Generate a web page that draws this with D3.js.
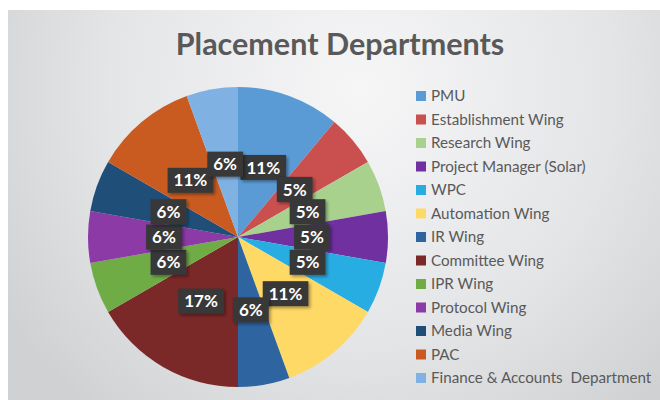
<!DOCTYPE html>
<html>
<head>
<meta charset="utf-8">
<script src="https://cdn.jsdelivr.net/npm/d3@7"></script>
<style>
  body { margin: 0; background: #fff; }
  text { font-family: Lato, "Open Sans", sans-serif; }
</style>
</head>
<body>
<div class="chart"></div>
<script>
// slice sizes (count of placements), shown labels as printed
const departments = ['PMU', 'Establishment Wing', 'Research Wing', 'Project Manager (Solar)', 'WPC',
  'Automation Wing', 'IR Wing', 'Committee Wing', 'IPR Wing', 'Protocol Wing', 'Media Wing', 'PAC',
  'Finance & Accounts\u00a0 Department'];
const counts = [2, 1, 1, 1, 1, 2, 1, 3, 1, 1, 1, 2, 1];
const pctLabels = ['11%', '5%', '5%', '5%', '5%', '11%', '6%', '17%', '6%', '6%', '6%', '11%', '6%'];
const colors = ['#5b9bd5', '#c9504f', '#a9d18e', '#7030a0', '#28ade3', '#ffd966', '#2e64a0',
  '#7b2828', '#6fac46', '#8c3aa6', '#1f4e79', '#c95b20', '#7fb2e3'];

const W = 660, H = 400;
const cx = 238, cy = 237, r = 150;

const svg = d3.select('.chart').append('svg')
  .attr('width', W)
  .attr('height', H);

const defs = svg.append('defs');
const bg = defs.append('radialGradient')
  .attr('id', 'bg')
  .attr('gradientUnits', 'userSpaceOnUse')
  .attr('cx', 360).attr('cy', 90).attr('r', 420);
bg.append('stop').attr('offset', '0%').attr('stop-color', '#f6f6f7');
bg.append('stop').attr('offset', '60%').attr('stop-color', '#e4e5e7');
bg.append('stop').attr('offset', '100%').attr('stop-color', '#d0d1d3');

const shadow = defs.append('filter').attr('id', 'shadow')
  .attr('x', '-30%').attr('y', '-30%').attr('width', '160%').attr('height', '160%');
shadow.append('feDropShadow')
  .attr('dx', 2).attr('dy', 2).attr('stdDeviation', 1.5)
  .attr('flood-color', '#000').attr('flood-opacity', 0.35);

svg.append('rect')
  .attr('x', 8).attr('y', 10)
  .attr('width', W - 8).attr('height', H - 10)
  .attr('fill', 'url(#bg)');

svg.append('text')
  .attr('x', 340).attr('y', 55)
  .attr('text-anchor', 'middle')
  .attr('font-size', 30.5)
  .attr('font-weight', 'bold')
  .attr('fill', '#595959')
  .text('Placement Departments');

const pie = d3.pie().sort(null).value(d => d);
const arcs = pie(counts);
const arc = d3.arc().innerRadius(0).outerRadius(r);
const labelArc = d3.arc().innerRadius(74).outerRadius(74);

const g = svg.append('g').attr('transform', `translate(${cx},${cy})`);

g.selectAll('.slice')
  .data(arcs)
  .enter().append('path')
    .attr('class', 'slice')
    .attr('d', arc)
    .attr('fill', (d, i) => colors[i]);

const labels = g.selectAll('.lbl')
  .data(arcs)
  .enter().append('g')
    .attr('class', 'lbl')
    .attr('transform', d => `translate(${labelArc.centroid(d)})`);

labels.append('rect')
  .attr('fill', '#383838')
  .attr('filter', 'url(#shadow)');

labels.append('text')
  .attr('text-anchor', 'middle')
  .attr('dy', '0.36em')
  .attr('font-size', 17)
  .attr('font-weight', 'bold')
  .attr('fill', '#fff')
  .text((d, i) => pctLabels[i]);

labels.each(function() {
  const t = d3.select(this).select('text').node().getComputedTextLength();
  const bw = t + 12, bh = 25;
  d3.select(this).select('rect')
    .attr('x', -bw / 2).attr('y', -bh / 2)
    .attr('width', bw).attr('height', bh);
});

// legend
const legend = svg.append('g').attr('transform', 'translate(416,96)');
const rows = legend.selectAll('.row')
  .data(departments)
  .enter().append('g')
    .attr('class', 'row')
    .attr('transform', (d, i) => `translate(0,${i * 23.5})`);

rows.append('rect')
  .attr('x', 0).attr('y', -5)
  .attr('width', 10).attr('height', 10)
  .attr('fill', (d, i) => colors[i]);

rows.append('text')
  .attr('x', 15)
  .attr('dy', '0.35em')
  .attr('font-size', 15.2)
  .attr('fill', '#595959')
  .text(d => d);
</script>
</body>
</html>
